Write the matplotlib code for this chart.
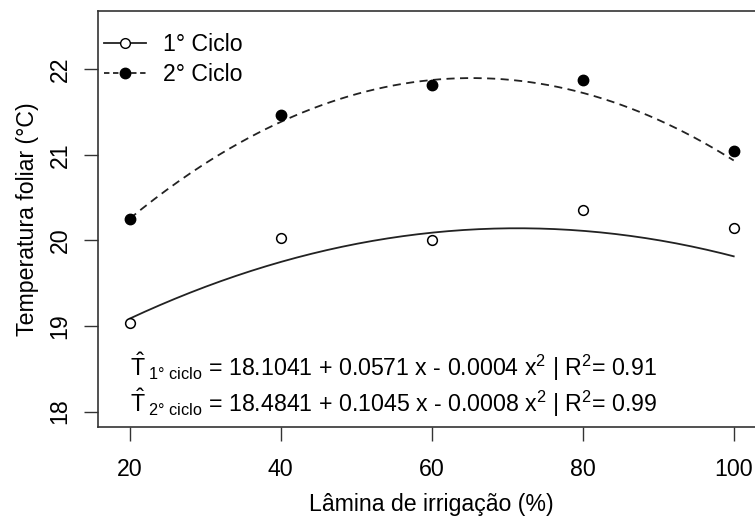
import numpy as np
import matplotlib
matplotlib.use('Agg')
import matplotlib.pyplot as plt
from matplotlib.lines import Line2D

plt.rcParams['font.family'] = ['Liberation Sans', 'DejaVu Sans']
plt.rcParams['mathtext.fontset'] = 'custom'
plt.rcParams['mathtext.rm'] = 'Liberation Sans'
plt.rcParams['mathtext.it'] = 'Liberation Sans:italic'

# dados
lamina = [20, 40, 60, 80, 100]
ciclo1 = [19.03, 20.03, 20.01, 20.36, 20.15]
ciclo2 = [20.25, 21.46, 21.82, 21.87, 21.04]
coef1 = [18.1041, 0.0571, -0.0004]
coef2 = [18.4841, 0.1045, -0.0008]
xticks = [20, 40, 60, 80, 100]
yticks = [18, 19, 20, 21, 22]

fs = 16.7

fig = plt.figure(figsize=(7.55, 5.18), dpi=100)
ax = fig.add_axes([0.1298, 0.1757, 0.884, 0.803])

xs = np.linspace(20, 100, 200)
y1 = coef1[0] + coef1[1] * xs + coef1[2] * xs ** 2
y2 = coef2[0] + coef2[1] * xs + coef2[2] * xs ** 2

ax.plot(xs, y1, color='#222222', lw=1.3)
ax.plot(xs, y2, color='#222222', lw=1.3, ls=(0, (4.5, 3)))
ax.plot(lamina, ciclo1, 'o', mfc='white', mec='black', mew=1.1, ms=7)
ax.plot(lamina, ciclo2, 'o', mfc='black', mec='black', ms=7.5)

ax.set_xlim(15.8, 104.2)
ax.set_ylim(17.82, 22.68)
ax.set_xticks(xticks)
ax.set_yticks(yticks)
ax.tick_params(direction='out', length=10, width=1, color='#333333',
               labelsize=fs)
ax.tick_params(axis='x', pad=12)
ax.tick_params(axis='y', pad=9)
for lab in ax.get_yticklabels():
    lab.set_rotation(90)
    lab.set_va('center')
for s in ax.spines.values():
    s.set_color('#333333')
    s.set_linewidth(1.2)

ax.set_xlabel('Lâmina de irrigação (%)', fontsize=fs, labelpad=9)
ax.set_ylabel('Temperatura foliar (°C)', fontsize=fs, labelpad=7)

h1 = Line2D([], [], color='#222222', lw=1.3, marker='o', mfc='white', mec='black', ms=7)
h2 = Line2D([], [], color='#222222', lw=1.3, ls=(0, (3, 2)), marker='o', mfc='black', mec='black', ms=7.5)
ax.legend([h1, h2], ['1° Ciclo', '2° Ciclo'], loc='upper left', frameon=False,
          fontsize=fs, handlelength=1.8, labelspacing=0.3, handletextpad=0.75,
          borderaxespad=0.0, bbox_to_anchor=(-0.005, 0.97))

eq1 = r'$\hat{\mathrm{T}}_{\mathrm{\ 1°\ ciclo}}$ = 18.1041 + 0.0571 x - 0.0004 x$^{2}$ | R$^{2}$= 0.91'
eq2 = r'$\hat{\mathrm{T}}_{\mathrm{\ 2°\ ciclo}}$ = 18.4841 + 0.1045 x - 0.0008 x$^{2}$ | R$^{2}$= 0.99'
ax.text(20, 18.41, eq1, fontsize=fs, va='baseline', ha='left')
ax.text(20, 17.99, eq2, fontsize=fs, va='baseline', ha='left')

fig.savefig('out.png', dpi=100)
